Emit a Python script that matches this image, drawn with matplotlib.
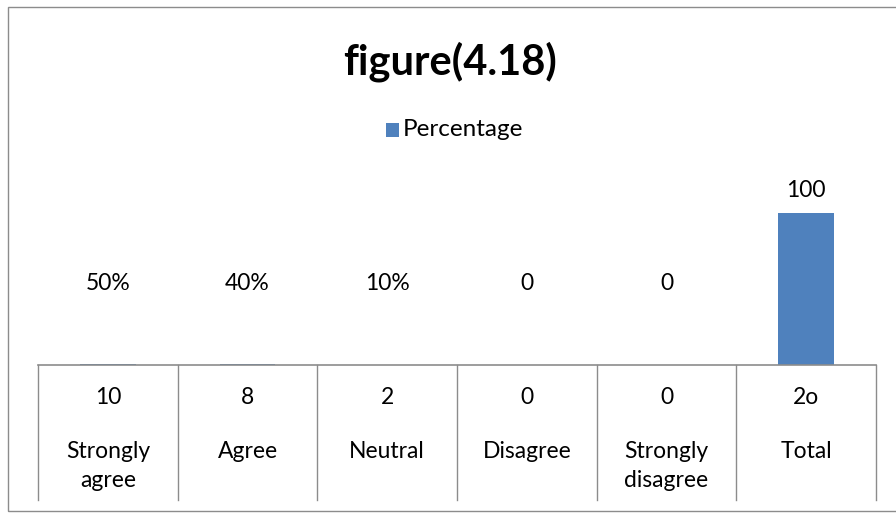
import matplotlib
matplotlib.use("Agg")
import matplotlib.pyplot as plt
from matplotlib.patches import Rectangle
from matplotlib.lines import Line2D

categories = ["Strongly\nagree", "Agree", "Neutral", "Disagree", "Strongly\ndisagree", "Total"]
counts = ["10", "8", "2", "0", "0", "2o"]
percentage = [0.5, 0.4, 0.1, 0, 0, 100]
value_labels = ["50%", "40%", "10%", "0", "0", "100"]

FONT = ["Lato", "DejaVu Sans"]
plt.rcParams['font.family'] = FONT
FS = 16.5

W, H = 896, 513
fig = plt.figure(figsize=(W / 100, H / 100), dpi=100)

# chart border
fig.patches.append(Rectangle((8 / W, 2 / H), 1.2, (H - 9) / H, transform=fig.transFigure,
                             fill=False, edgecolor="#8c8c8c", linewidth=1.0))

left, right, base, top = 38, 876, 365, 183
ax = fig.add_axes([left / W, (H - base) / H, (right - left) / W, (base - top) / H])
n = len(categories)
x = list(range(n))
ax.bar(x, percentage, width=0.4, color="#4F81BD", zorder=3)
ax.set_xlim(-0.5, n - 0.5)
ax.set_ylim(0, 120)
ax.axis("off")

# data labels
for xi, v, lab in zip(x, percentage, value_labels):
    if v > 20:
        ax.annotate(lab, (xi, v), xytext=(0, 16.5), textcoords="offset points",
                    ha="center", va="center", fontsize=FS)
    else:
        ax.annotate(lab, (xi, 0), xytext=(0, 59), textcoords="offset points",
                    ha="center", va="center", fontsize=FS)

# multi-level category axis
trans = ax.get_xaxis_transform()
ax.add_line(Line2D([-0.5, n - 0.5], [0, 0], color="#8c8c8c", linewidth=1.2,
                   transform=trans, clip_on=False, zorder=4))
drop = (500 - base) / (base - top)
for b in range(n + 1):
    xb = b - 0.5
    ax.add_line(Line2D([xb, xb], [0, -drop], color="#8c8c8c", linewidth=1.0,
                       transform=trans, clip_on=False))
for xi, c, cat in zip(x, counts, categories):
    ax.text(xi, -(398 - base) / (base - top), c, transform=trans, ha="center", va="center",
            fontsize=FS)
    ax.text(xi, -(441 - base) / (base - top), cat, transform=trans, ha="center", va="top",
            fontsize=FS, linespacing=1.45)

fig.text(450 / W, 1 - 62 / H, "figure(4.18)", ha="center", va="center",
         fontsize=30, fontweight="bold")

# legend
fig.patches.append(Rectangle((386 / W, 1 - 137 / H), 13 / W, 14 / H, transform=fig.transFigure,
                             facecolor="#4F81BD", edgecolor="none"))
fig.text(403 / W, 1 - 130 / H, "Percentage", ha="left", va="center", fontsize=FS + 1)

fig.savefig("out.png", dpi=100)
